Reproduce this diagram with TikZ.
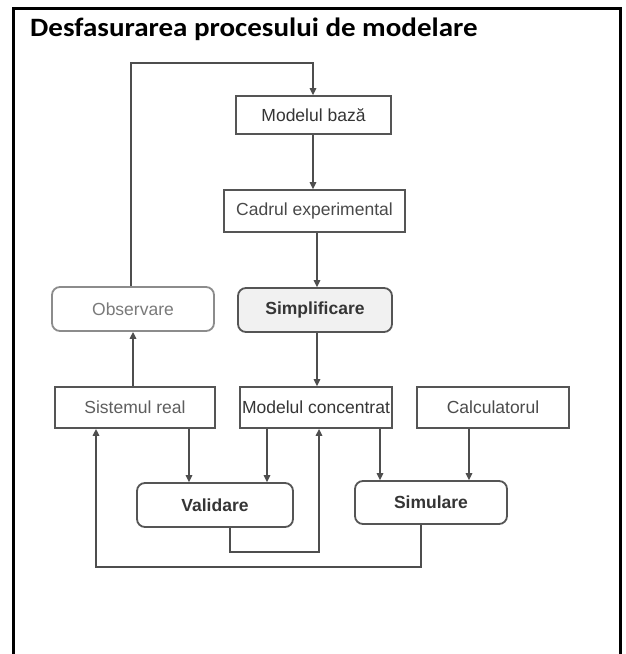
\documentclass[tikz,border=0pt]{standalone}
\usepackage{fontspec}
\usepackage{graphicx}
\usetikzlibrary{arrows.meta}
\newfontfamily\dfont{Liberation Sans}
\newfontfamily\tfont{Carlito}
\definecolor{boxc}{HTML}{555555}
\definecolor{linec}{HTML}{4E4E4E}
\definecolor{txtc}{HTML}{353535}
\definecolor{greyb}{HTML}{8C8C8C}
\definecolor{greyt}{HTML}{7A7A7A}
\definecolor{midt}{HTML}{5E5E5E}
\definecolor{spfill}{HTML}{F1F1F1}
\tikzset{
  box/.style={draw=boxc, line width=1.8pt, inner sep=0pt, text=txtc,
    font=\dfont\fontsize{17.5}{20}\selectfont},
  rbox/.style={box, rounded corners=8pt},
  arr/.style={draw=linec, line width=1.4pt, -{Triangle[width=6.5pt,length=7pt]}},
  ln/.style={draw=linec, line width=1.4pt},
}
\begin{document}
\begin{tikzpicture}[x=1pt,y=-1pt]
\useasboundingbox (0,0) rectangle (626,654);
\fill[white] (0,0) rectangle (626,654);
% frame
\draw[line width=3pt, black] (13.5,654) -- (13.5,8.5) -- (620.5,8.5) -- (620.5,654);
% title
\node[anchor=base west, inner sep=0pt, font=\tfont\bfseries\fontsize{26.5}{30}\selectfont] (title) at (30,36)
  {\scalebox{1.095}[1]{Desfasurarea procesului de modelare}};
% boxes
\node[box, minimum width=155pt, minimum height=38pt] (MB) at (313.5,115) {Modelul bază};
\node[box, minimum width=181pt, minimum height=42pt, text=txtc!90!white] (CE) at (314.5,211) {Cadrul experimental};
\node[rbox, draw=greyb, text=greyt, minimum width=162pt, minimum height=44pt] (OB) at (133,309) {Observare};
\node[rbox, fill=spfill, minimum width=154pt, minimum height=44pt, font=\dfont\bfseries\fontsize{17.5}{20}\selectfont] (SP) at (315,310) {Simplificare};
\node[box, text=midt, minimum width=160pt, minimum height=41pt] (SR) at (135,407.5) {Sistemul real};
\node[box, minimum width=152pt, minimum height=41pt] (MC) at (316,407.5) {Modelul concentrat};
\node[box, text=midt!80!black, minimum width=152pt, minimum height=41pt] (CA) at (493,407.5) {Calculatorul};
\node[rbox, minimum width=156pt, minimum height=44pt, font=\dfont\bfseries\fontsize{17.5}{20}\selectfont] (VA) at (215,505) {Validare};
\node[rbox, minimum width=152pt, minimum height=43pt, font=\dfont\bfseries\fontsize{17.5}{20}\selectfont] (SI) at (431,502.5) {Simulare};
% helper coordinates
\coordinate (xob) at (131,0);
\coordinate (xmb) at (313,0);
\coordinate (xce) at (317,0);
\coordinate (xsr) at (133,0);
\coordinate (xsv) at (189,0);
\coordinate (xmv) at (267,0);
\coordinate (xms) at (380,0);
\coordinate (xcs) at (469,0);
\coordinate (xvb) at (230,0);
\coordinate (xvm) at (319,0);
\coordinate (xsb) at (421,0);
\coordinate (xss) at (96,0);
\coordinate (ytop) at (0,63);
\coordinate (yv) at (0,552);
\coordinate (ys) at (0,567);
% connectors
\draw[arr] (OB.north -| xob) -- (xob |- ytop) -- (xmb |- ytop) -- (MB.north -| xmb);
\draw[arr] (MB.south -| xmb) -- (CE.north -| xmb);
\draw[arr] (CE.south -| xce) -- (SP.north -| xce);
\draw[arr] (SR.north -| xsr) -- (OB.south -| xsr);
\draw[arr] (SP.south -| xce) -- (MC.north -| xce);
\draw[arr] (SR.south -| xsv) -- (VA.north -| xsv);
\draw[arr] (MC.south -| xmv) -- (VA.north -| xmv);
\draw[arr] (MC.south -| xms) -- (SI.north -| xms);
\draw[arr] (CA.south -| xcs) -- (SI.north -| xcs);
\draw[arr] (VA.south -| xvb) -- (xvb |- yv) -- (xvm |- yv) -- (MC.south -| xvm);
\draw[arr] (SI.south -| xsb) -- (xsb |- ys) -- (xss |- ys) -- (SR.south -| xss);
\end{tikzpicture}
\end{document}
